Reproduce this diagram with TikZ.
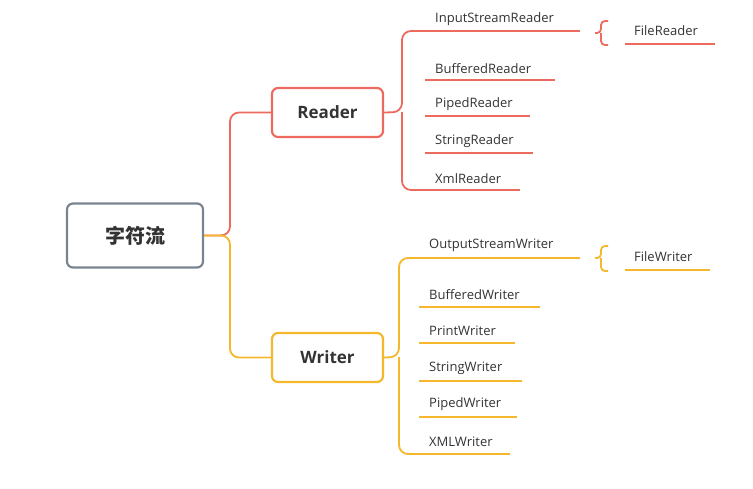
\documentclass[tikz,border=0pt]{standalone}
\usepackage{fontspec}
\setmainfont{Open Sans}
\newfontfamily\cjk{Noto Sans CJK SC}
\definecolor{rd}{HTML}{EC6B5E}
\definecolor{yl}{HTML}{F5B72C}
\definecolor{gr}{HTML}{7A8490}
\definecolor{tx}{HTML}{333333}
\begin{document}
\begin{tikzpicture}[x=1pt,y=-1pt,
  box/.style={draw,line width=2.2pt,rounded corners=6pt,text=tx,font=\fontsize{17}{19}\selectfont\bfseries},
  lf/.style={anchor=west,text=tx,font=\fontsize{13}{15}\selectfont,inner sep=0pt},
  ln/.style={line width=1.8pt},
  br/.style={line width=1.8pt,rounded corners=9pt},
  sb/.style={line width=1.8pt,rounded corners=4pt}]
\useasboundingbox (0,0) rectangle (753,488);
\node[box,draw=gr,minimum width=136,minimum height=64,font=\fontsize{20}{22}\selectfont] (root) at (135,235.5) {\cjk\bfseries 字符流};
\node[box,draw=rd,minimum width=111,minimum height=49] (rdr) at (327.5,112.5) {Reader};
\node[box,draw=yl,minimum width=111,minimum height=49] (wtr) at (327.5,357.5) {Writer};
\coordinate (rj) at (230,235.5);
\draw[br,rd] (root.east) -- (rj) |- (rdr.west);
\draw[br,yl] (root.east) -- (rj) |- (wtr.west);
% Reader leaves
\foreach \n/\t/\y/\e in {r1/InputStreamReader/18/580,r2/BufferedReader/67/555,r3/PipedReader/103/530,r4/StringReader/140/533,r5/XmlReader/177/520}{
  \node[lf] (\n) at (435,\y+1.5) {\t};
  \coordinate (\n a) at (425,\y+13); \coordinate (\n b) at (\e,\y+13);
  \draw[ln,rd] (\n a) -- (\n b);}
\draw[br,rd] (r1a) -- (402,31) -- (402,112) -- (rdr.east);
\draw[br,rd] (r5a) -- (402,190) -- (402,112);
\node[lf] (fr) at (634,31) {FileReader};
\coordinate (fra) at (625,44); \coordinate (frb) at (715,44);
\draw[ln,rd] (fra) -- (frb);
\draw[sb,rd] (608,21) -- (601,21) -- (601,33) -- (595,33);
\draw[sb,rd] (608,45) -- (601,45) -- (601,33);
% Writer leaves
\foreach \n/\t/\y/\e in {w1/OutputStreamWriter/244/580,w2/BufferedWriter/293/540,w3/PrintWriter/329/515,w4/StringWriter/367/522,w5/PipedWriter/403/517,w6/XMLWriter/440/510}{
  \node[lf] (\n) at (429,\y+1.5) {\t};
  \coordinate (\n a) at (419,\y+14); \coordinate (\n b) at (\e,\y+14);
  \draw[ln,yl] (\n a) -- (\n b);}
\draw[br,yl] (w1a) -- (399,258) -- (399,357) -- (wtr.east);
\draw[br,yl] (w6a) -- (399,454) -- (399,357);
\node[lf] (fw) at (634,257) {FileWriter};
\coordinate (fwa) at (625,270); \coordinate (fwb) at (710,270);
\draw[ln,yl] (fwa) -- (fwb);
\draw[sb,yl] (608,246) -- (601,246) -- (601,258) -- (595,258);
\draw[sb,yl] (608,271) -- (601,271) -- (601,258);
\end{tikzpicture}
\end{document}
